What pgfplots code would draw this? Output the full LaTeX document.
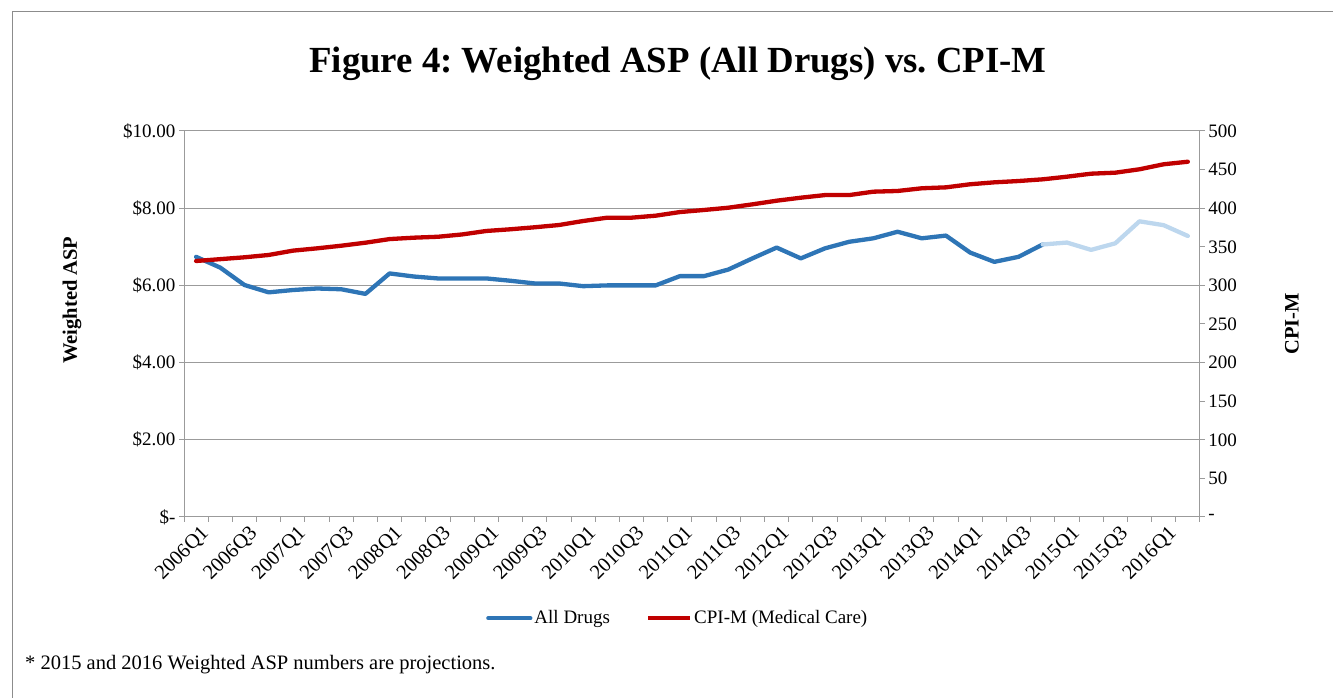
\documentclass[border=0pt]{standalone}
\usepackage{pgfplots}
\usepackage{pgfplotstable}
\usepackage{fontspec}
\setmainfont{Liberation Serif}
\pgfplotsset{compat=1.18}
\frenchspacing

\definecolor{aspblue}{RGB}{46,117,182}
\definecolor{asplight}{RGB}{189,215,238}
\definecolor{cpired}{RGB}{192,0,0}
\definecolor{axisgray}{RGB}{155,155,155}
\definecolor{framegray}{RGB}{140,140,140}

% quarter index, weighted ASP ($), CPI-M (medical care)
\pgfplotstableread{
x  asp   cpi
0  6.74  331.6
1  6.46  334.0
2  6.01  336.4
3  5.82  339.4
4  5.88  345.0
5  5.92  348.0
6  5.90  351.4
7  5.78  355.3
8  6.31  360.0
9  6.23  361.8
10 6.18  363.0
11 6.18  366.0
12 6.18  370.5
13 6.12  372.7
14 6.05  375.3
15 6.05  378.2
16 5.98  383.4
17 6.00  387.7
18 6.00  387.7
19 6.00  390.3
20 6.24  395.0
21 6.24  397.7
22 6.41  400.6
23 6.70  405.0
24 6.98  409.7
25 6.70  413.6
26 6.96  417.0
27 7.13  417.0
28 7.22  421.4
29 7.39  422.3
30 7.22  425.8
31 7.29  427.0
32 6.85  431.0
33 6.61  433.5
34 6.74  435.2
35 7.06  437.4
36 7.11  440.8
37 6.92  444.7
38 7.09  446.0
39 7.66  450.4
40 7.56  456.9
41 7.28  460.2
}\datatable

\newcommand{\tickfont}{\fontsize{19bp}{22bp}\selectfont}

\begin{document}
\begin{tikzpicture}
\path[use as bounding box] (0,0) rectangle (1333bp,698bp);
\draw[framegray, line width=1bp] (12bp,0) -- (12bp,686bp) -- (1333bp,686bp);

\node[font=\fontsize{36.8bp}{42bp}\selectfont\bfseries] at (678bp,634bp)
  {Figure 4: Weighted ASP (All Drugs) vs. CPI-M};
\node[font=\fontsize{20.5bp}{24bp}\selectfont\bfseries, rotate=90] at (72bp,398bp) {Weighted ASP};
\node[font=\fontsize{20.5bp}{24bp}\selectfont\bfseries, rotate=90] at (1292bp,374bp) {CPI-M};
\node[font=\fontsize{20.5bp}{24bp}\selectfont, anchor=west, inner sep=0pt] at (25bp,33bp)
  {* 2015 and 2016 Weighted ASP numbers are projections.};

\begin{axis}[
  at={(184bp,181bp)}, anchor=south west,
  scale only axis, width=1016bp, height=386bp,
  xmin=-0.5, xmax=41.5, ymin=0, ymax=10,
  axis x line*=bottom, axis y line*=left,
  axis line style={axisgray, line width=1bp, -},
  tick align=outside,
  major tick length=5bp, minor tick length=5bp,
  tick style={axisgray, line width=1bp},
  xtick={0,2,...,40},
  xticklabels={2006Q1,2006Q3,2007Q1,2007Q3,2008Q1,2008Q3,2009Q1,2009Q3,2010Q1,2010Q3,2011Q1,2011Q3,2012Q1,2012Q3,2013Q1,2013Q3,2014Q1,2014Q3,2015Q1,2015Q3,2016Q1},
  minor xtick={-0.5,0.5,...,41.5},
  major x tick style={draw=none},
  xticklabel style={font=\fontsize{20.5bp}{24bp}\selectfont, rotate=45, anchor=east, inner sep=1bp, yshift=-13bp, xshift=2bp},
  ytick={0,2,...,10},
  yticklabels={\$-,\$2.00,\$4.00,\$6.00,\$8.00,\$10.00},
  yticklabel style={font=\tickfont},
  ymajorgrids, grid style={axisgray, line width=1bp},
  legend style={at={(0.486,-0.262)}, anchor=center, draw=none, fill=none,
    font=\tickfont, legend columns=2,
    /tikz/every even column/.append style={column sep=34bp}},
  legend image code/.code={\draw[#1] (0bp,0bp) -- (42bp,0bp);},
  clip=false,
]
\addplot[aspblue, line width=4.3bp, line join=round, line cap=round, restrict x to domain=0:35]
  table[x=x, y=asp] {\datatable};
\addlegendentry{All Drugs}
\addplot[asplight, line width=4.3bp, line join=round, line cap=round, restrict x to domain=35:41, forget plot]
  table[x=x, y=asp] {\datatable};
\addlegendimage{cpired, line width=4.3bp}
\addlegendentry{CPI-M (Medical Care)}
\end{axis}

\begin{axis}[
  at={(184bp,181bp)}, anchor=south west,
  scale only axis, width=1016bp, height=386bp,
  xmin=-0.5, xmax=41.5, ymin=0, ymax=500,
  axis x line=none, axis y line*=right,
  axis line style={axisgray, line width=1bp, -},
  tick align=outside, major tick length=5bp,
  tick style={axisgray, line width=1bp},
  ytick={0,50,...,500},
  yticklabels={-,50,100,150,200,250,300,350,400,450,500},
  yticklabel style={font=\tickfont, anchor=west},
  clip=false,
]
\addplot[cpired, line width=4.3bp, line join=round, line cap=round]
  table[x=x, y=cpi] {\datatable};
\end{axis}
\end{tikzpicture}
\end{document}
